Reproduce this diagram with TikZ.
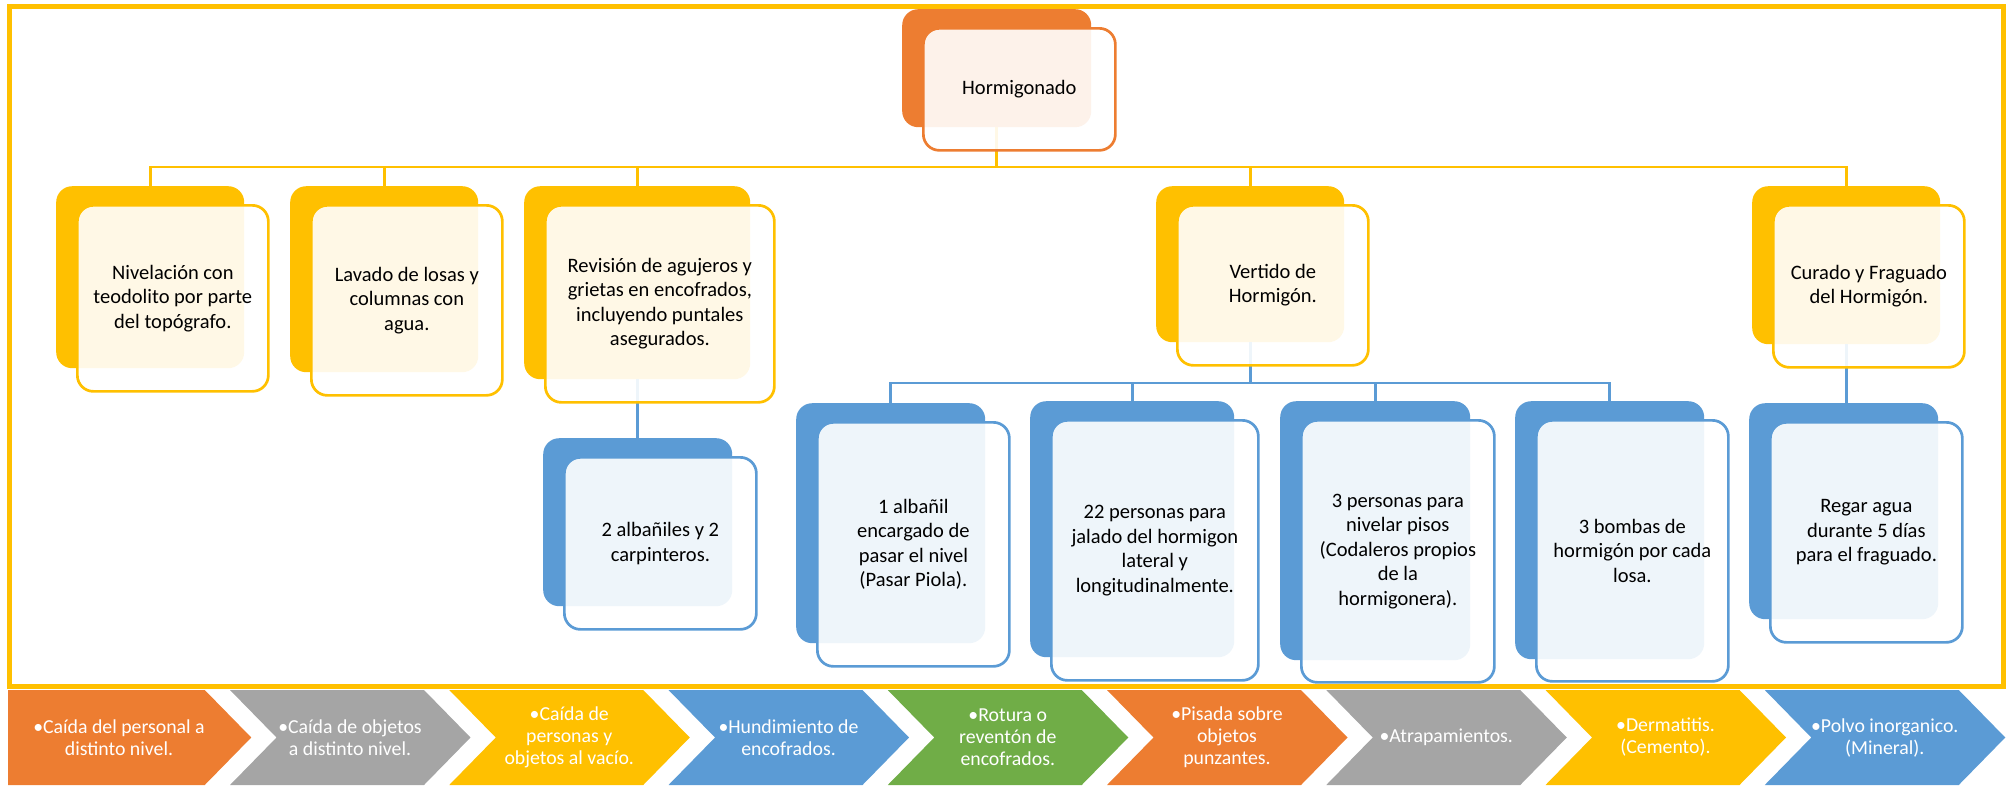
\documentclass[tikz,border=0pt]{standalone}
\usepackage{fontspec}
\setmainfont{Carlito}
\usetikzlibrary{calc}
\definecolor{cOrange}{HTML}{ED7D31}
\definecolor{cYellow}{HTML}{FFC000}
\definecolor{cBlue}{HTML}{5B9BD5}
\definecolor{cGrey}{HTML}{A5A5A5}
\definecolor{cGreen}{HTML}{70AD47}

\begin{document}
\begin{tikzpicture}[x=1pt,y=-1pt,
  backbox/.style={rectangle, rounded corners=16pt, inner sep=0pt, anchor=north west},
  frontbox/.style={rectangle, rounded corners=16pt, inner sep=0pt, anchor=north west,
    line width=2.7pt, fill=white, fill opacity=0.9, text opacity=1, align=center,
    text=black, font=\fontsize{20.5}{24.5}\selectfont},
  yline/.style={cYellow, line width=2.7pt},
  bline/.style={cBlue, line width=2.7pt},
  chevtext/.style={text=white, align=center, font=\fontsize{19.8}{22}\selectfont},
]
\useasboundingbox (0,0) rectangle (2013,785);

% outer frame
\draw[cYellow, line width=5pt] (9,6.5) rectangle (2003,686.5);

% solid back cards
\node[backbox, fill=cOrange, minimum width=189pt, minimum height=118pt] (bhor) at (902,9) {};
\node[backbox, fill=cYellow, minimum width=188pt, minimum height=182pt] (bniv) at (56,186) {};
\node[backbox, fill=cYellow, minimum width=188pt, minimum height=186pt] (blav) at (290,186) {};
\node[backbox, fill=cYellow, minimum width=226pt, minimum height=193pt] (brev) at (524,186) {};
\node[backbox, fill=cYellow, minimum width=188pt, minimum height=156pt] (bver) at (1156,186) {};
\node[backbox, fill=cYellow, minimum width=188pt, minimum height=158pt] (bcur) at (1752,186) {};
\node[backbox, fill=cBlue, minimum width=189pt, minimum height=168pt] (balb2) at (543,438) {};
\node[backbox, fill=cBlue, minimum width=189pt, minimum height=240pt] (balb1) at (796,403) {};
\node[backbox, fill=cBlue, minimum width=204pt, minimum height=256pt] (bp22) at (1030,401) {};
\node[backbox, fill=cBlue, minimum width=190pt, minimum height=259pt] (bp3) at (1280,401) {};
\node[backbox, fill=cBlue, minimum width=189pt, minimum height=258pt] (bbom) at (1515,401) {};
\node[backbox, fill=cBlue, minimum width=189pt, minimum height=216pt] (breg) at (1749,403) {};

% connectors
\coordinate (ybus) at (0,167);
\coordinate (bbus) at (0,383);
\foreach \c in {niv,lav,rev,ver,cur}
  \draw[yline] (bhor.south) |- (ybus -| b\c.north) -- (b\c.north);
\foreach \c in {alb1,p22,p3,bom}
  \draw[bline] (bver.south) |- (bbus -| b\c.north) -- (b\c.north);
\draw[bline] (brev.south) -- (brev.south |- balb2.north);
\draw[bline] (bcur.south) -- (bcur.south |- breg.north);

% translucent front cards with the texts
\node[frontbox, draw=cOrange, minimum width=192pt, minimum height=122pt] (hor) at (922,27) {Hormigonado};
\node[frontbox, draw=cYellow, minimum width=191pt, minimum height=186pt] (niv) at (76,204)
  {Nivelación con\\teodolito por parte\\del topógrafo.};
\node[frontbox, draw=cYellow, minimum width=191pt, minimum height=190pt] (lav) at (310,204)
  {Lavado de losas y\\columnas con\\agua.};
\node[frontbox, draw=cYellow, minimum width=229pt, minimum height=197pt] (rev) at (544,204)
  {Revisión de agujeros y\\grietas en encofrados,\\incluyendo puntales\\asegurados.};
\node[frontbox, draw=cYellow, minimum width=191pt, minimum height=160pt] (ver) at (1176,204)
  {Vertido de\\Hormigón.};
\node[frontbox, draw=cYellow, minimum width=191pt, minimum height=162pt] (cur) at (1772,204)
  {Curado y Fraguado\\del Hormigón.};
\node[frontbox, draw=cBlue, minimum width=192pt, minimum height=172pt] (alb2) at (563,456)
  {2 albañiles y 2\\carpinteros.};
\node[frontbox, draw=cBlue, minimum width=192pt, minimum height=244pt] (alb1) at (816,421)
  {1 albañil\\encargado de\\pasar el nivel\\(Pasar Piola).};
\node[frontbox, draw=cBlue, minimum width=207pt, minimum height=260pt] (p22) at (1050,419)
  {22 personas para\\jalado del hormigon\\lateral y\\longitudinalmente.};
\node[frontbox, draw=cBlue, minimum width=193pt, minimum height=262pt] (p3) at (1300,419)
  {3 personas para\\nivelar pisos\\(Codaleros propios\\de la\\hormigonera).};
\node[frontbox, draw=cBlue, minimum width=192pt, minimum height=261pt] (bom) at (1535,419)
  {3 bombas de\\hormigón por cada\\losa.};
\node[frontbox, draw=cBlue, minimum width=192pt, minimum height=220pt] (reg) at (1769,421)
  {Regar agua\\durante 5 días\\para el fraguado.};

% risk chevrons along the bottom
\fill[cOrange] (8,690) -- (204.75,690) -- (251.25,737.5) -- (204.75,785) -- (8,785) -- cycle;
\node[chevtext] (r0) at (119,737.5) {•Caída del personal a\\distinto nivel.};
\foreach \i/\col/\t in {
    1/cGrey/{•Caída de objetos\\a distinto nivel.},
    2/cYellow/{•Caída de\\personas y\\objetos al vacío.},
    3/cBlue/{•Hundimiento de\\encofrados.},
    4/cGreen/{•Rotura o\\reventón de\\encofrados.},
    5/cOrange/{•Pisada sobre\\objetos\\punzantes.},
    6/cGrey/{•Atrapamientos.},
    7/cYellow/{•Dermatitis.\\(Cemento).},
    8/cBlue/{•Polvo inorganico.\\(Mineral).}}{
  \pgfmathsetmacro\xl{10.75+219.25*\i}
  \fill[\col] (\xl,690) -- ++(194,0) -- ++(46.5,47.5) -- ++(-46.5,47.5)
    -- ++(-194,0) -- ++(46.5,-47.5) -- cycle;
  \node[chevtext] (r\i) at (\xl+120,737.5) {\t};
}
\end{tikzpicture}
\end{document}
